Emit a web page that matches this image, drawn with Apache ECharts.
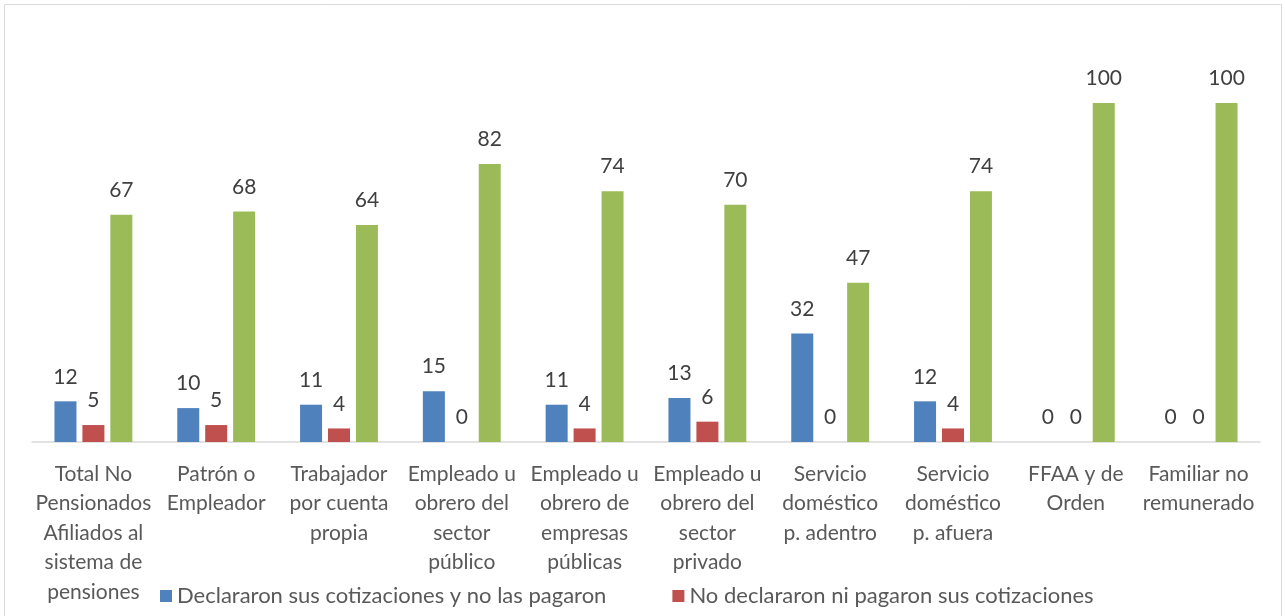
<!DOCTYPE html>
<html>
<head>
<meta charset="utf-8">
<script src="https://cdn.jsdelivr.net/npm/echarts@6/dist/echarts.min.js"></script>
<style>
  html, body { margin: 0; padding: 0; background: #fff; }
  #chart { width: 1285px; height: 616px; }
</style>
</head>
<body>
<div id="chart"></div>
<script>
// categorias (los saltos de linea siguen el ajuste del grafico original)
const categories = [
  'Total No\nPensionados\nAfiliados al\nsistema de\npensiones',
  'Patrón o\nEmpleador',
  'Trabajador\npor cuenta\npropia',
  'Empleado u\nobrero del\nsector\npúblico',
  'Empleado u\nobrero de\nempresas\npúblicas',
  'Empleado u\nobrero del\nsector\nprivado',
  'Servicio\ndoméstico\np. adentro',
  'Servicio\ndoméstico\np. afuera',
  'FFAA y de\nOrden',
  'Familiar no\nremunerado'
]
const seriesNames = [
  'Declararon sus cotizaciones y no las pagaron',
  'No declararon ni pagaron sus cotizaciones',
  'Otros'
]
const declaradasNoPagadas = [12, 10, 11, 15, 11, 13, 32, 12, 0, 0]
const noDeclaradas = [5, 5, 4, 0, 4, 6, 0, 4, 0, 0]
const otros = [67, 68, 64, 82, 74, 70, 47, 74, 100, 100]

const colors = ['#4F81BD', '#C0504D', '#9BBB59']
const fontFamily = 'Lato, "Open Sans", sans-serif'

const chart = echarts.init(document.getElementById('chart'))

function barSeries(name, data) {
  return {
    name: name,
    type: 'bar',
    data: data,
    barWidth: 22,
    barGap: '27%',
    animation: false,
    label: {
      show: true,
      position: 'top',
      distance: 14,
      color: '#404040',
      fontSize: 21,
      fontFamily: fontFamily
    }
  }
}

chart.setOption({
  color: colors,
  textStyle: { fontFamily: fontFamily },
  graphic: [{
    type: 'rect',
    shape: { x: 4.5, y: 4.5, width: 1277, height: 700 },
    style: { fill: 'none', stroke: '#D9D9D9', lineWidth: 1 },
    silent: true
  }],
  grid: {
    left: 32,
    right: 25,
    top: 103,
    bottom: 174
  },
  legend: {
    data: seriesNames.slice(0, 2),
    left: 160,
    top: 585,
    padding: 0,
    itemWidth: 12,
    itemHeight: 12,
    itemGap: 66,
    icon: 'rect',
    textStyle: { color: '#595959', fontSize: 22, fontFamily: fontFamily }
  },
  xAxis: {
    type: 'category',
    data: categories,
    axisLine: { lineStyle: { color: '#D9D9D9', width: 1.5 } },
    axisTick: { show: false },
    axisLabel: {
      interval: 0,
      color: '#595959',
      fontSize: 21,
      lineHeight: 29.5,
      margin: 17,
      fontFamily: fontFamily
    }
  },
  yAxis: {
    type: 'value',
    min: 0,
    max: 100,
    show: false
  },
  series: [
    barSeries(seriesNames[0], declaradasNoPagadas),
    barSeries(seriesNames[1], noDeclaradas),
    barSeries(seriesNames[2], otros)
  ]
})
</script>
</body>
</html>
